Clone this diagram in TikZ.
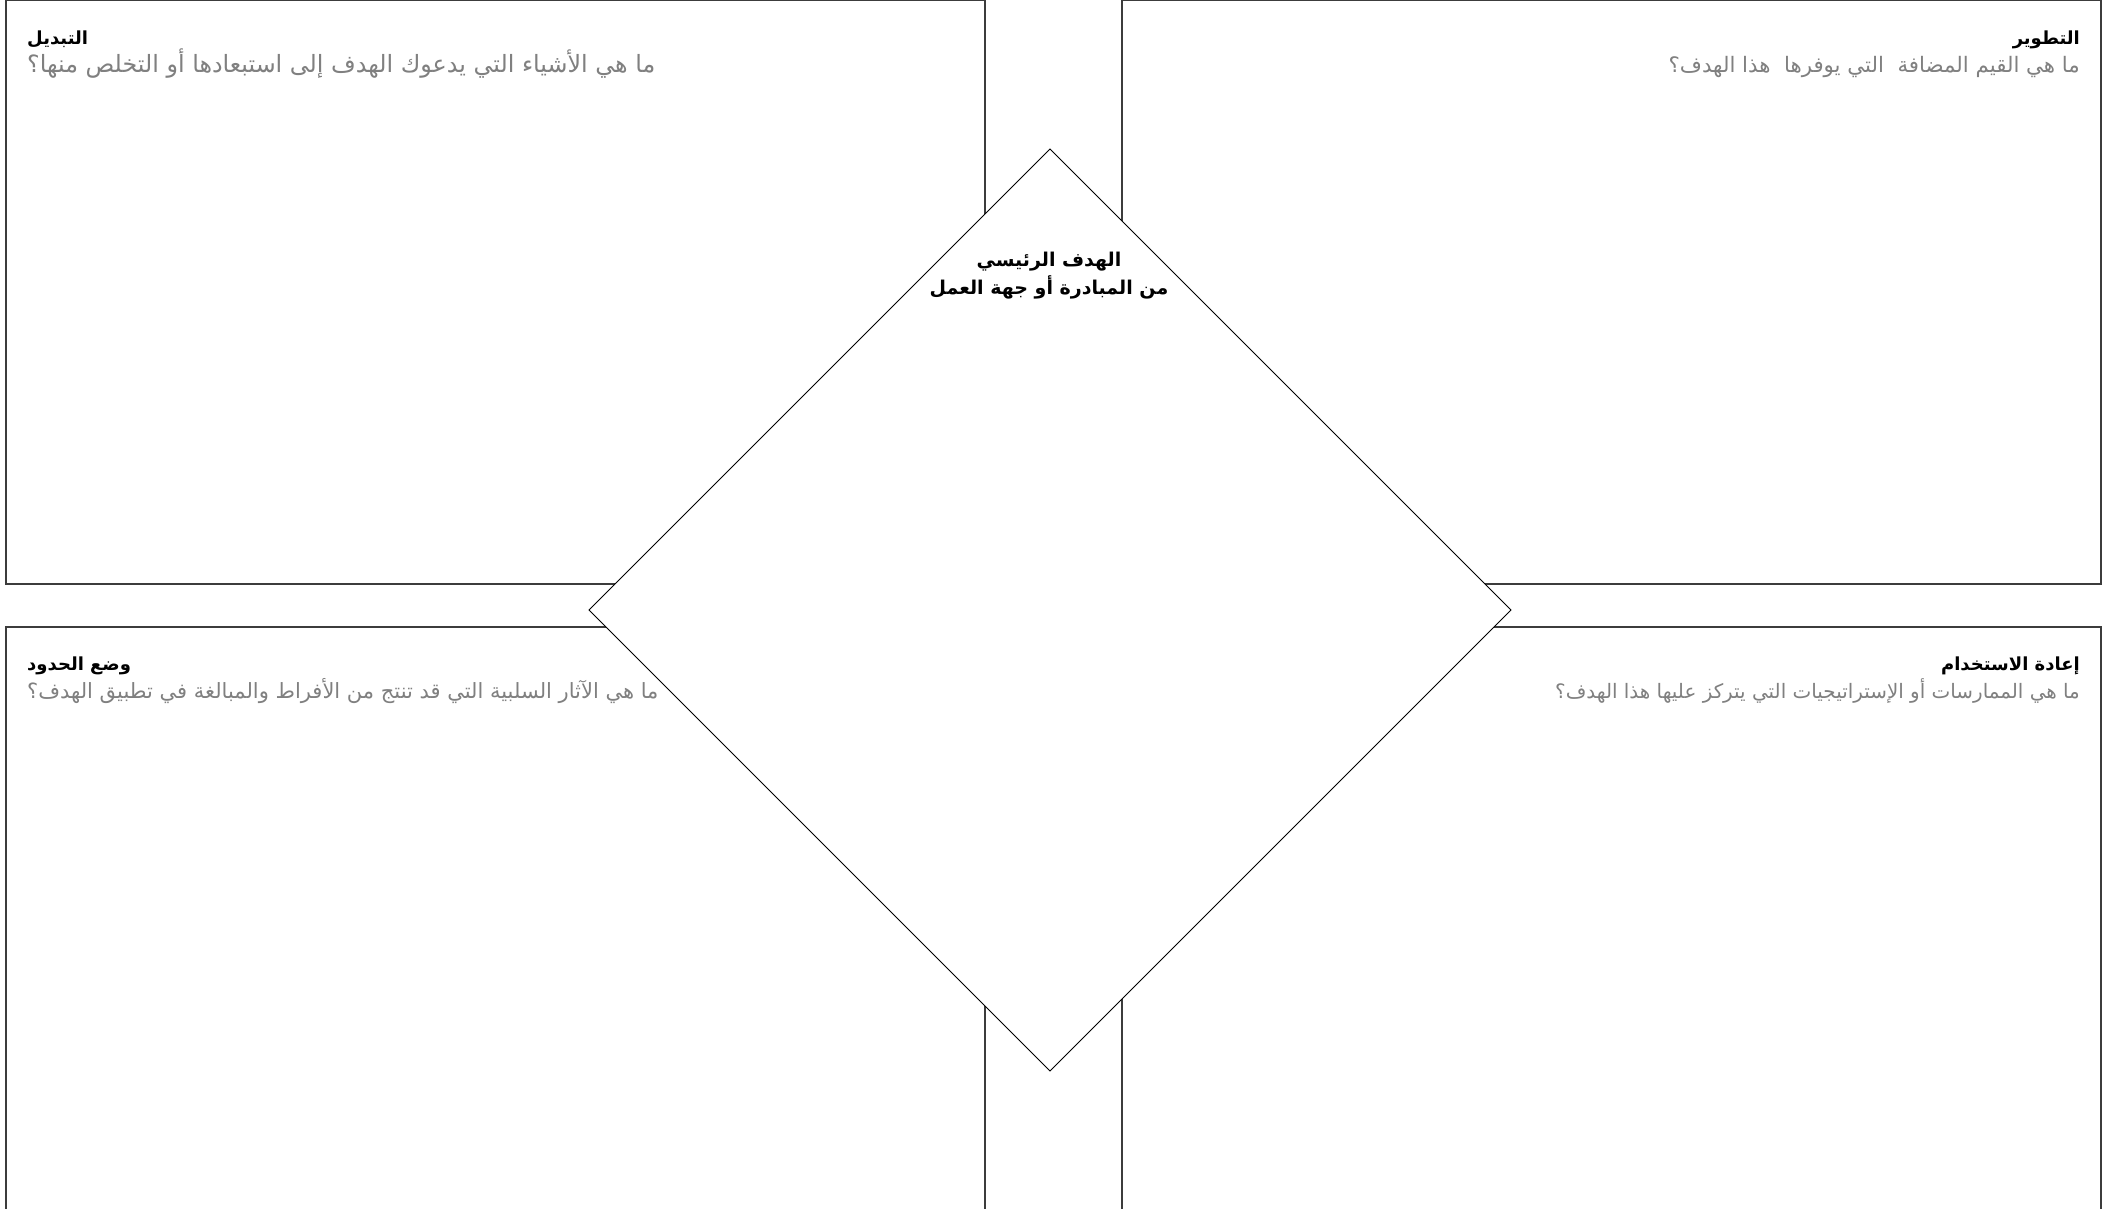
\documentclass[tikz,border=0pt]{standalone}
\usepackage{fontspec}
\TeXXeTstate=1
\newfontfamily\arabicfont[Script=Arabic]{DejaVu Sans}
\definecolor{subgray}{RGB}{128,128,128}
\definecolor{linegray}{RGB}{60,60,60}
\begin{document}
\begin{tikzpicture}[x=1pt,y=-1pt,
  panel/.style={draw=linegray,line width=1.3pt},
  rhomb/.style={draw=black,line width=1pt,fill=white},
  ttl/.style={font=\arabicfont\bfseries\fontsize{18}{22}\selectfont, text=black, inner sep=0pt},
  qst/.style={font=\arabicfont\fontsize{#1}{26}\selectfont, text=subgray, inner sep=0pt},
  ctr/.style={font=\arabicfont\bfseries\fontsize{19}{28}\selectfont, text=black, inner sep=0pt, align=center}]
\useasboundingbox (0,0) rectangle (2121,1208);
\fill[white] (0,0) rectangle (2121,1208);
% panels
\draw[panel] (6,0.5) rectangle (985,584);
\draw[panel] (1122,0.5) rectangle (2101,584);
\draw[panel] (6,1230) -- (6,627) -- (985,627) -- (985,1230);
\draw[panel] (1122,1230) -- (1122,627) -- (2101,627) -- (2101,1230);
% diamond
\coordinate (dt) at (1050,149);
\coordinate (dr) at (1511,610);
\coordinate (db) at (1050,1071);
\coordinate (dl) at (589,610);
\draw[rhomb] (dt) -- (dr) -- (db) -- (dl) -- cycle;
% center text
\node[ctr] (center) at (1049,276) {\beginR الهدف الرئيسي\endR\\\beginR من المبادرة أو جهة العمل\endR};
% top-left
\node[ttl, anchor=base west] (t1) at (27,44) {\beginR التبديل\endR};
\node[qst=23.8, anchor=base west] (q1) at (27,72) {\beginR ما هي الأشياء التي يدعوك الهدف إلى استبعادها أو التخلص منها؟\endR};
% top-right
\node[ttl, anchor=base east] (t2) at (2080,44) {\beginR التطوير\endR};
\node[qst=21.3, anchor=base east] (q2) at (2080,72) {\beginR ما هي القيم المضافة \ التي يوفرها \ هذا الهدف؟\endR};
% bottom-left
\node[ttl, anchor=base west] (t3) at (27,670) {\beginR وضع الحدود\endR};
\node[qst=21, anchor=base west] (q3) at (27,698) {\beginR ما هي الآثار السلبية التي قد تنتج من الأفراط والمبالغة في تطبيق الهدف؟\endR};
% bottom-right
\node[ttl, anchor=base east] (t4) at (2080,670) {\beginR إعادة الاستخدام\endR};
\node[qst=19.9, anchor=base east] (q4) at (2080,698) {\beginR ما هي الممارسات أو الإستراتيجيات التي يتركز عليها هذا الهدف؟\endR};
\end{tikzpicture}
\end{document}
